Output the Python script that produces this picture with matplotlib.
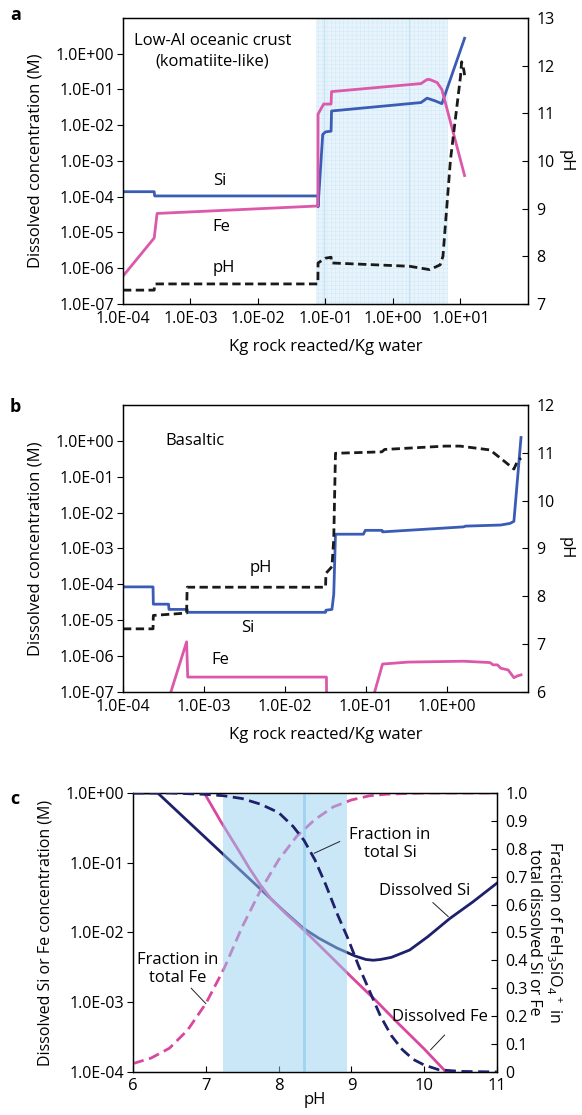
import matplotlib
matplotlib.use("Agg")
import matplotlib.pyplot as plt

plt.rcParams['font.family'] = ['Open Sans', 'DejaVu Sans']
plt.rcParams['mathtext.default'] = 'regular'
plt.rcParams['axes.linewidth'] = 0.9
plt.rcParams['hatch.linewidth'] = 0.35

blue = '#3b5cb4'
pink = '#dc58aa'
navy = '#1e206c'
cpink = '#d9479f'

conc_ticks_ab = [1e-7, 1e-6, 1e-5, 1e-4, 1e-3, 1e-2, 1e-1, 1e0]
conc_labels_ab = ['1.0E-07', '1.0E-06', '1.0E-05', '1.0E-04', '1.0E-03', '1.0E-02', '1.0E-01', '1.0E+00']
a_xticks = [1e-4, 1e-3, 1e-2, 1e-1, 1e0, 1e1]
a_xlabels = ['1.0E-04', '1.0E-03', '1.0E-02', '1.0E-01', '1.0E+00', '1.0E+01']
b_xticks = [1e-4, 1e-3, 1e-2, 1e-1, 1e0]
b_xlabels = ['1.0E-04', '1.0E-03', '1.0E-02', '1.0E-01', '1.0E+00']

# --- a: low-Al oceanic crust ---
a_si_x = [1e-4, 2.9e-4, 2.95e-4, 0.0774, 0.0776, 0.091, 0.1, 0.121, 0.123, 2.6, 3.2, 4.2, 5.3, 11.5]
a_si_y = [1.38e-4, 1.38e-4, 1.05e-4, 1.05e-4, 5.2e-5, 5.5e-3, 6.5e-3, 6.8e-3, 0.025, 0.043, 0.057, 0.048, 0.040, 2.7]
a_fe_x = [1e-4, 2.9e-4, 3.2e-4, 0.0772, 0.0776, 0.094, 0.121, 0.123, 2.6, 3.2, 3.5, 4.5, 5.3, 11.5]
a_fe_y = [6.0e-7, 7.0e-6, 3.4e-5, 5.5e-5, 0.0205, 0.039, 0.039, 0.087, 0.146, 0.19, 0.19, 0.156, 0.10, 3.9e-4]
a_ph_x = [1e-4, 2.9e-4, 2.95e-4, 0.0772, 0.0776, 0.1, 0.121, 0.123, 1.77, 3.5, 5.0, 5.5, 7.1, 10.0, 10.4, 11.2, 11.5]
a_ph_y = [7.29, 7.29, 7.42, 7.42, 7.86, 7.96, 7.98, 7.86, 7.79, 7.72, 7.82, 8.0, 10.02, 11.77, 12.08, 11.91, 11.8]
a_shade = (0.073, 6.5)
a_marks = [0.095, 1.75]

# --- b: basaltic ---
b_si_x = [1e-4, 2.35e-4, 2.37e-4, 3.65e-4, 3.7e-4, 6.2e-4, 6.25e-4, 0.0317, 0.032, 0.038, 0.040, 0.042,
          0.093, 0.098, 0.157, 0.16, 1.6, 1.7, 4.6, 6.0, 6.7, 8.2]
b_si_y = [8.5e-5, 8.5e-5, 2.8e-5, 2.8e-5, 2.0e-5, 2.0e-5, 1.66e-5, 1.66e-5, 1.9e-5, 2.0e-5, 5.3e-5, 2.5e-3,
          2.5e-3, 3.2e-3, 3.2e-3, 2.9e-3, 4.0e-3, 4.2e-3, 4.5e-3, 5.0e-3, 5.7e-3, 1.24]
b_fe_x = [3.3e-4, 6.1e-4, 6.3e-4, 0.0325, 0.0327, 0.11, 0.16, 0.33, 1.6, 3.4, 3.7, 4.2, 4.6, 5.7, 6.7, 7.4, 8.2]
b_fe_y = [3e-8, 2.5e-6, 2.6e-7, 2.6e-7, 3e-8, 3e-8, 6.0e-7, 6.8e-7, 7.2e-7, 6.6e-7, 5.7e-7, 5.7e-7, 4.6e-7,
          4.1e-7, 2.5e-7, 2.8e-7, 3.0e-7]
b_ph_x = [1e-4, 2.35e-4, 2.37e-4, 6.1e-4, 6.2e-4, 0.0317, 0.032, 0.038, 0.040, 0.042, 0.157, 0.17,
          0.95, 1.45, 3.4, 4.8, 6.7, 7.4, 8.2]
b_ph_y = [7.32, 7.32, 7.6, 7.65, 8.19, 8.19, 8.48, 8.62, 9.2, 10.99, 11.02, 11.07,
          11.14, 11.14, 11.06, 10.86, 10.66, 10.82, 10.89]

# --- c: speciation vs pH ---
c_si_ph = [6.0, 6.34, 6.8, 7.24, 7.75, 8.05, 8.34, 8.55, 8.8, 9.05, 9.2, 9.3, 9.4, 9.55, 9.8, 10.05, 10.35,
           10.67, 11.0]
c_si_conc = [1.0, 1.0, 0.355, 0.132, 0.042, 0.0214, 0.0115, 0.0083, 0.006, 0.0046, 0.0041, 0.004, 0.0041,
             0.0044, 0.0056, 0.0087, 0.0158, 0.0275, 0.051]
c_fe_ph = [6.98, 7.2, 7.45, 7.6, 7.75, 7.9, 8.1, 8.34, 8.7, 9.0, 9.33, 9.65, 10.0, 10.3]
c_fe_conc = [1.0, 0.40, 0.151, 0.083, 0.048, 0.030, 0.0186, 0.011, 0.0047, 0.0023, 0.00107, 0.00049,
             0.000214, 0.0001]
c_sifrac_ph = [6.0, 6.5, 7.0, 7.25, 7.5, 7.75, 8.0, 8.2, 8.35, 8.5, 8.65, 8.8, 8.95, 9.1, 9.25, 9.4,
               9.55, 9.7, 9.85, 10.0, 10.2, 10.5, 11.0]
c_sifrac = [1.0, 1.0, 0.995, 0.99, 0.98, 0.96, 0.93, 0.88, 0.83, 0.76, 0.67, 0.57, 0.48, 0.38, 0.29, 0.2,
            0.13, 0.08, 0.045, 0.025, 0.008, 0.002, 0.0]
c_fefrac_ph = [6.0, 6.25, 6.5, 6.75, 7.0, 7.25, 7.5, 7.75, 8.0, 8.25, 8.5, 8.75, 9.0, 9.25, 9.5, 10.0, 11.0]
c_fefrac = [0.03, 0.05, 0.085, 0.15, 0.245, 0.37, 0.52, 0.65, 0.76, 0.845, 0.905, 0.95, 0.975, 0.99,
            0.996, 1.0, 1.0]
c_shade = (7.24, 8.94)
c_mark = 8.35
c_left_ticks = [1e-4, 1e-3, 1e-2, 1e-1, 1e0]
c_left_labels = ['1.0E-04', '1.0E-03', '1.0E-02', '1.0E-01', '1.0E+00']
c_right_ticks = [0, 0.1, 0.2, 0.3, 0.4, 0.5, 0.6, 0.7, 0.8, 0.9, 1.0]
c_right_labels = ['0', '0.1', '0.2', '0.3', '0.4', '0.5', '0.6', '0.7', '0.8', '0.9', '1.0']

FS = 11.5
TS = 12
dash = (0, (3, 1.6))


def log_axes(ax, xticks, xlabels, yticks, ylabels):
    ax.set_xscale('log')
    ax.set_yscale('log')
    ax.set_xticks(xticks, labels=xlabels)
    ax.set_yticks(yticks, labels=ylabels)
    ax.minorticks_off()
    ax.tick_params(axis='x', direction='in', length=4, labelsize=FS, pad=5)
    ax.tick_params(axis='y', direction='out', length=4, labelsize=FS, pad=2)


def ph_axis(ax, lo, hi):
    ax.set_ylim(lo, hi)
    ax.set_yticks(range(lo, hi + 1))
    ax.tick_params(axis='y', direction='in', length=4, labelsize=FS, pad=6)
    ax.set_ylabel('pH', rotation=270, fontsize=TS, labelpad=14)


fig = plt.figure(figsize=(5.82, 11.15), dpi=100)

# panel a
ax = fig.add_axes([0.2113, 0.7274, 0.6959, 0.2565])
log_axes(ax, a_xticks, a_xlabels, conc_ticks_ab, conc_labels_ab)
ax.set_xlim(1e-4, 1e2)
ax.set_ylim(1e-7, 1e1)
ax.axvspan(*a_shade, facecolor='#e8f4fc', edgecolor='#d2e9f7', hatch='++++', lw=0, zorder=0)
for xm in a_marks:
    ax.axvline(xm, color='#c3e2f5', lw=0.8, zorder=0.5)
ax.plot(a_si_x, a_si_y, color=blue, lw=2)
ax.plot(a_fe_x, a_fe_y, color=pink, lw=2)
ax.text(2.1e-3, 2.3, 'Low-Al oceanic crust', ha='center', va='center', fontsize=TS)
ax.text(2.1e-3, 0.62, '(komatiite-like)', ha='center', va='center', fontsize=TS)
ax.text(2.75e-3, 2.7e-4, 'Si', ha='center', va='center', fontsize=TS)
ax.text(2.9e-3, 1.4e-5, 'Fe', ha='center', va='center', fontsize=TS)
ax.text(3.1e-3, 1.0e-6, 'pH', ha='center', va='center', fontsize=TS)
ax.set_xlabel('Kg rock reacted/Kg water', fontsize=TS, labelpad=9)
ax.set_ylabel('Dissolved concentration (M)', fontsize=TS, labelpad=9)
ax2 = ax.twinx()
ph_axis(ax2, 7, 13)
ax2.plot(a_ph_x, a_ph_y, color='#1a1a1a', lw=2, ls=dash)
fig.text(10 / 582, 1 - 6 / 1115, 'a', fontsize=13, weight='bold', va='top')

# panel b
ax = fig.add_axes([0.2113, 0.3794, 0.6959, 0.2574])
log_axes(ax, b_xticks, b_xlabels, conc_ticks_ab, conc_labels_ab)
ax.set_xlim(1e-4, 1e1)
ax.set_ylim(1e-7, 1e1)
ax.plot(b_si_x, b_si_y, color=blue, lw=2)
ax.plot(b_fe_x, b_fe_y, color=pink, lw=2)
ax.text(7.8e-4, 1.0, 'Basaltic', ha='center', va='center', fontsize=TS)
ax.text(5.1e-3, 2.8e-4, 'pH', ha='center', va='center', fontsize=TS)
ax.text(3.5e-3, 6.2e-6, 'Si', ha='center', va='center', fontsize=TS)
ax.text(1.6e-3, 8.0e-7, 'Fe', ha='center', va='center', fontsize=TS)
ax.set_xlabel('Kg rock reacted/Kg water', fontsize=TS, labelpad=9)
ax.set_ylabel('Dissolved concentration (M)', fontsize=TS, labelpad=9)
ax2 = ax.twinx()
ph_axis(ax2, 6, 12)
ax2.plot(b_ph_x, b_ph_y, color='#1a1a1a', lw=2, ls=dash)
fig.text(10 / 582, 1 - 398 / 1115, 'b', fontsize=13, weight='bold', va='top')

# panel c
ax = fig.add_axes([0.2285, 0.0386, 0.6254, 0.2502])
ax.set_yscale('log')
ax.set_xlim(6, 11)
ax.set_ylim(1e-4, 1)
ax.set_xticks(range(6, 12))
ax.set_yticks(c_left_ticks, labels=c_left_labels)
ax.minorticks_off()
ax.tick_params(axis='x', direction='in', length=4, labelsize=TS, pad=4)
ax.tick_params(axis='y', direction='out', length=4, labelsize=FS, pad=2)
ax.plot(c_si_ph, c_si_conc, color=navy, lw=2)
ax.plot(c_fe_ph, c_fe_conc, color=cpink, lw=2)
ax.set_xlabel('pH', fontsize=TS, labelpad=-1)
ax.set_ylabel('Dissolved Si or Fe concentration (M)', fontsize=TS - 0.5, labelpad=9)

ax2 = ax.twinx()
ax2.set_ylim(0, 1.0)
ax2.set_yticks(c_right_ticks, labels=c_right_labels)
ax2.tick_params(axis='y', direction='in', length=4, labelsize=FS, pad=6)
ax2.plot(c_fefrac_ph, c_fefrac, color=cpink, lw=2, ls=(0, (4, 2)), zorder=1)
ax2.axvspan(*c_shade, color='#97d1f1', alpha=0.5, lw=0, zorder=2)
ax2.axvline(c_mark, color='#8ccbef', lw=2, alpha=0.7, zorder=2.1)
ax2.plot(c_sifrac_ph, c_sifrac, color=navy, lw=2, ls=(0, (4, 2)), zorder=3)
ax2.set_ylabel('Fraction of FeH$_3$SiO$_4$$^+$ in\ntotal dissolved Si or Fe', rotation=270,
               fontsize=TS - 0.5, labelpad=27, linespacing=1.3)

ax2.text(9.53, 0.817, 'Fraction in\ntotal Si', ha='center', va='center', fontsize=TS, linespacing=1.2, zorder=4)
ax2.plot([8.84, 8.49], [0.826, 0.784], color='#222222', lw=0.7, zorder=4)
ax2.text(10.0, 0.647, 'Dissolved Si', ha='center', va='center', fontsize=TS, zorder=4)
ax2.plot([10.33, 10.12], [0.557, 0.607], color='#222222', lw=0.7, zorder=4)
ax2.text(10.22, 0.198, 'Dissolved Fe', ha='center', va='center', fontsize=TS, zorder=4)
ax2.plot([10.28, 10.09], [0.132, 0.08], color='#222222', lw=0.7, zorder=4)
ax2.text(6.62, 0.368, 'Fraction in\ntotal Fe', ha='center', va='center', fontsize=TS, linespacing=1.2, zorder=4)
ax2.plot([6.80, 7.0], [0.30, 0.245], color='#222222', lw=0.7, zorder=4)
fig.text(10 / 582, 1 - 790 / 1115, 'c', fontsize=13, weight='bold', va='top')

plt.savefig('out.png', dpi=100)
